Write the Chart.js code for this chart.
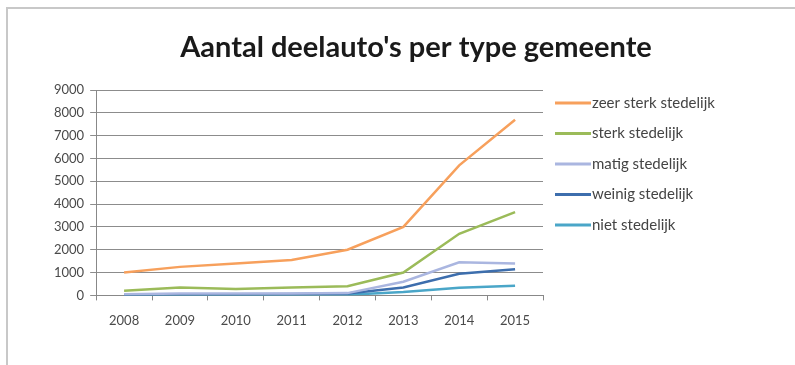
<!DOCTYPE html>
<html lang="nl">
<head>
    <meta charset="UTF-8">
    <title>Aantal deelauto's per type gemeente</title>
    <script src="https://cdn.jsdelivr.net/npm/chart.js"></script>
    <style>
        body { margin: 0; background: #fff; }
        #wrap { position: relative; width: 795px; height: 365px; }
        #frame { position: absolute; left: 6px; top: 7px; right: 0; bottom: 0; border-top: 2px solid #c8c8c8; border-left: 2px solid #c8c8c8; pointer-events: none; }
    </style>
</head>
<body>
    <div id="wrap">
        <canvas id="chart" width="795" height="365"></canvas>
        <div id="frame"></div>
    </div>
    <script>
        const years = ["2008", "2009", "2010", "2011", "2012", "2013", "2014", "2015"];
        const zeerSterk = [1000, 1250, 1400, 1550, 2000, 3000, 5700, 7700];
        const sterk = [200, 350, 280, 350, 400, 1000, 2700, 3650];
        const matig = [50, 80, 80, 80, 100, 600, 1450, 1400];
        const weinig = [30, 50, 50, 60, 80, 350, 950, 1150];
        const niet = [10, 20, 20, 20, 30, 150, 330, 420];
        const titleText = "Aantal deelauto's per type gemeente";

        // title + legend drawn by hand so they sit where the original has them
        const extrasPlugin = {
            id: "extras",
            afterDraw(chart) {
                const ctx = chart.ctx;
                ctx.save();
                ctx.font = "bold 29px Lato";
                ctx.fillStyle = "#1a1a1a";
                ctx.textAlign = "center";
                ctx.textBaseline = "middle";
                ctx.fillText(titleText, 416, 48);

                ctx.font = "15px Lato";
                ctx.fillStyle = "#444";
                ctx.textAlign = "left";
                chart.data.datasets.forEach((d, i) => {
                    const y = 103 + i * 30.5;
                    ctx.strokeStyle = d.borderColor;
                    ctx.lineWidth = 3;
                    ctx.beginPath();
                    ctx.moveTo(555, y);
                    ctx.lineTo(591, y);
                    ctx.stroke();
                    ctx.fillText(d.label, 592, y);
                });
                ctx.restore();
            }
        };

        function ds(label, data, color) {
            return { label: label, data: data, borderColor: color, backgroundColor: color, borderWidth: 2.5, pointRadius: 0, tension: 0, fill: false };
        }

        new Chart(document.getElementById("chart").getContext("2d"), {
            type: "line",
            data: {
                labels: years,
                datasets: [
                    ds("zeer sterk stedelijk", zeerSterk, "#f7a05c"),
                    ds("sterk stedelijk", sterk, "#9bbb59"),
                    ds("matig stedelijk", matig, "#aab6e0"),
                    ds("weinig stedelijk", weinig, "#3d6ead"),
                    ds("niet stedelijk", niet, "#4aa6c8")
                ]
            },
            options: {
                responsive: false,
                animation: false,
                layout: { padding: { left: 48, right: 252, top: 90, bottom: 23 } },
                plugins: {
                    title: { display: false },
                    tooltip: { enabled: false },
                    legend: { display: false }
                },
                scales: {
                    x: {
                        offset: true,
                        grid: { offset: true, drawOnChartArea: false, color: "#888", tickLength: 5 },
                        border: { color: "#888" },
                        ticks: { color: "#4a4a4a", font: { family: "Lato", size: 13 }, padding: 13 }
                    },
                    y: {
                        min: 0,
                        max: 9000,
                        ticks: {
                            stepSize: 1000,
                            color: "#4a4a4a",
                            font: { family: "Lato", size: 13 },
                            padding: 6,
                            callback: v => String(v)
                        },
                        grid: { color: "#8c8c8c", tickLength: 6 },
                        border: { color: "#888" }
                    }
                }
            },
            plugins: [extrasPlugin]
        });
    </script>
</body>
</html>
